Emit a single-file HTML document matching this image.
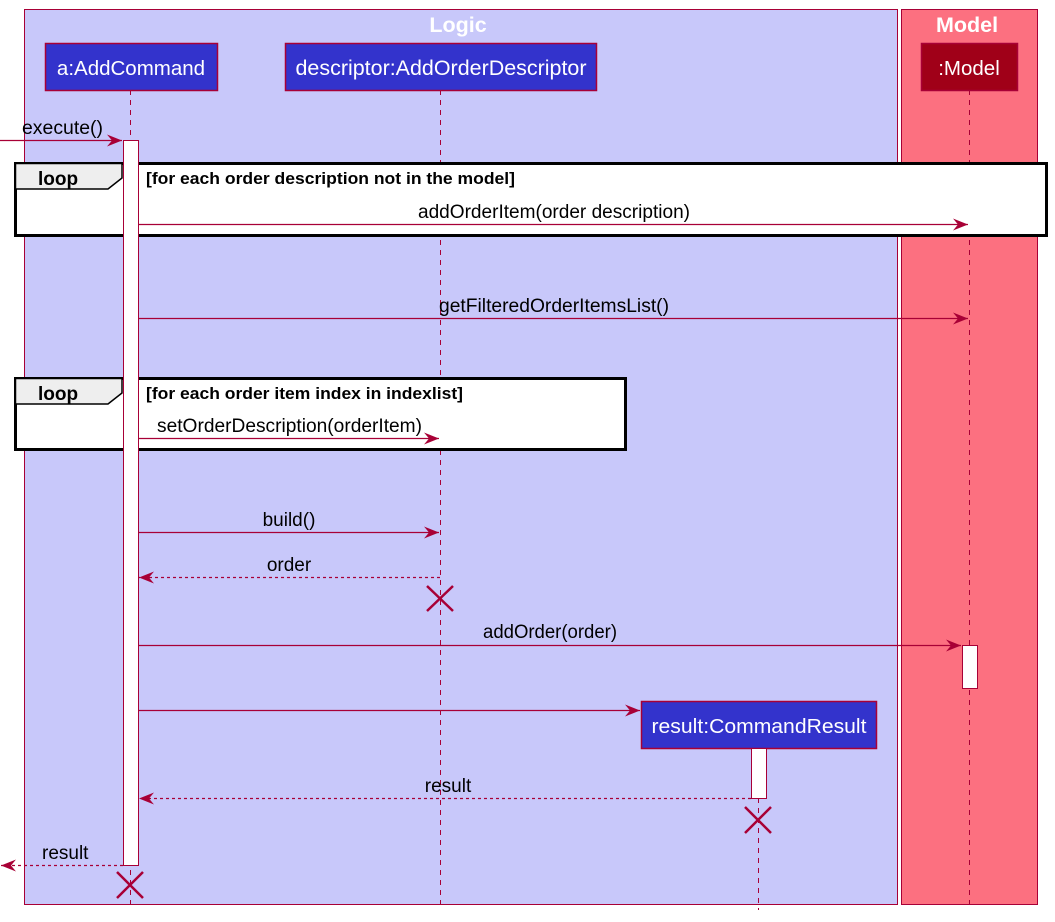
<!DOCTYPE html>
<html><head><meta charset="utf-8"><style>
html,body{margin:0;padding:0;background:#fff}
svg{display:block;font-family:"Liberation Sans",sans-serif}
</style></head><body>
<svg width="1055" height="922" viewBox="0 0 1055 922" xmlns="http://www.w3.org/2000/svg">
<defs>
<marker id="ah" markerWidth="16" markerHeight="14" refX="15" refY="7" orient="auto" markerUnits="userSpaceOnUse">
<path d="M0,1 L15,7 L0,13 L5,7 Z" fill="#A80036"/></marker>
</defs>
<rect x="24.5" y="9.5" width="873" height="895" fill="#C8C8FA" stroke="#A80036"/>
<rect x="901.5" y="9.5" width="136" height="895" fill="#FC7080" stroke="#A80036"/>
<text x="458" y="32" fill="#fff" font-size="21.5" font-weight="bold" text-anchor="middle">Logic</text>
<text x="967" y="32" fill="#fff" font-size="21.5" font-weight="bold" text-anchor="middle">Model</text>
<g stroke="#A80036" stroke-dasharray="5,5">
<line x1="130.5" y1="90" x2="130.5" y2="910"/>
<line x1="440.5" y1="90" x2="440.5" y2="910"/>
<line x1="969.5" y1="90" x2="969.5" y2="910"/>
<line x1="758.5" y1="748" x2="758.5" y2="910"/>
</g>
<rect x="45.5" y="43.5" width="172" height="47" fill="#3333CC" stroke="#A80036" stroke-width="1.5"/>
<text x="131" y="75" fill="#fff" font-size="20.5" text-anchor="middle">a:AddCommand</text>
<rect x="285.5" y="43.5" width="311" height="47" fill="#3333CC" stroke="#A80036" stroke-width="1.5"/>
<text x="441" y="75" fill="#fff" font-size="21" text-anchor="middle" textLength="291" lengthAdjust="spacingAndGlyphs">descriptor:AddOrderDescriptor</text>
<rect x="921.5" y="43.5" width="96" height="47" fill="#A00018" stroke="#A80036" stroke-width="1.5"/>
<text x="969" y="75" fill="#fff" font-size="20.5" text-anchor="middle">:Model</text>
<rect x="15.5" y="163.5" width="1031" height="72" fill="#fff" stroke="#000" stroke-width="3"/>
<path d="M15.5,163.5 H122 V178 L108,189 H15.5 Z" fill="#EEEEEE" stroke="#000" stroke-width="1.5"/>
<text x="38" y="185" font-size="19" font-weight="bold">loop</text>
<text x="146" y="184" font-size="17" font-weight="bold" textLength="369" lengthAdjust="spacingAndGlyphs">[for each order description not in the model]</text>
<rect x="15.5" y="378.5" width="610" height="71" fill="#fff" stroke="#000" stroke-width="3"/>
<path d="M15.5,378.5 H122 V393 L108,404 H15.5 Z" fill="#EEEEEE" stroke="#000" stroke-width="1.5"/>
<text x="38" y="400" font-size="19" font-weight="bold">loop</text>
<text x="146" y="399" font-size="17" font-weight="bold" textLength="317" lengthAdjust="spacingAndGlyphs">[for each order item index in indexlist]</text>
<rect x="123.5" y="140.5" width="15" height="725" fill="#fff" stroke="#A80036"/>
<rect x="962.5" y="645.5" width="15" height="43" fill="#fff" stroke="#A80036"/>
<rect x="641.5" y="701.5" width="235" height="47" fill="#3333CC" stroke="#A80036" stroke-width="1.5"/>
<text x="759" y="733" fill="#fff" font-size="20.5" text-anchor="middle" textLength="215" lengthAdjust="spacingAndGlyphs">result:CommandResult</text>
<rect x="751.5" y="748.5" width="15" height="50" fill="#fff" stroke="#A80036"/>
<g stroke="#A80036" fill="none" stroke-width="1.2">
<line x1="0" y1="140.5" x2="122" y2="140.5" marker-end="url(#ah)"/>
<line x1="139" y1="224.5" x2="968" y2="224.5" marker-end="url(#ah)"/>
<line x1="139" y1="318.5" x2="968" y2="318.5" marker-end="url(#ah)"/>
<line x1="139" y1="438.5" x2="439" y2="438.5" marker-end="url(#ah)"/>
<line x1="139" y1="532.5" x2="439" y2="532.5" marker-end="url(#ah)"/>
<line x1="440" y1="577.5" x2="139" y2="577.5" stroke-dasharray="3,3" marker-end="url(#ah)"/>
<line x1="139" y1="645.5" x2="961" y2="645.5" marker-end="url(#ah)"/>
<line x1="139" y1="710.5" x2="640" y2="710.5" marker-end="url(#ah)"/>
<line x1="751" y1="798.5" x2="139" y2="798.5" stroke-dasharray="3,3" marker-end="url(#ah)"/>
<line x1="123" y1="865.5" x2="1" y2="865.5" stroke-dasharray="3,3" marker-end="url(#ah)"/>
</g>
<g stroke="#A80036" stroke-width="2.5">
<path d="M427,586 L453,611 M453,586 L427,611"/>
<path d="M745,807 L771,833 M771,807 L745,833"/>
<path d="M117,872 L143,898 M143,872 L117,898"/>
</g>
<g font-size="19" fill="#000">
<text x="22" y="134" textLength="81" lengthAdjust="spacingAndGlyphs">execute()</text>
<text x="554" y="218" text-anchor="middle" textLength="272" lengthAdjust="spacingAndGlyphs">addOrderItem(order description)</text>
<text x="554" y="312" text-anchor="middle" textLength="230" lengthAdjust="spacingAndGlyphs">getFilteredOrderItemsList()</text>
<text x="157" y="432" textLength="265" lengthAdjust="spacingAndGlyphs">setOrderDescription(orderItem)</text>
<text x="289" y="526" text-anchor="middle">build()</text>
<text x="289" y="571" text-anchor="middle">order</text>
<text x="550" y="638" text-anchor="middle" textLength="134" lengthAdjust="spacingAndGlyphs">addOrder(order)</text>
<text x="448" y="792" text-anchor="middle">result</text>
<text x="42" y="859">result</text>
</g>
</svg>
</body></html>
